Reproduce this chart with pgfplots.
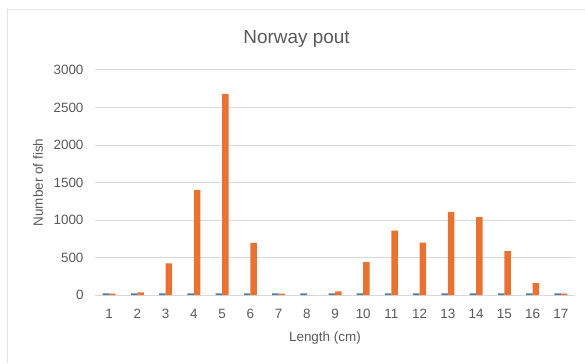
\documentclass[border=0pt]{standalone}
\usepackage{pgfplots}
\pgfplotsset{compat=1.18}
\usepackage{fontspec}
\setmainfont{Liberation Sans}

\definecolor{txtgray}{HTML}{595959}
\definecolor{gridgray}{HTML}{D9D9D9}
\definecolor{frame}{HTML}{E4E4E4}
\definecolor{serblue}{HTML}{4F7EA3}
\definecolor{serorange}{HTML}{E97132}

\begin{document}
\begin{tikzpicture}[x=1bp,y=1bp]
  % page size and chart-area frame
  \useasboundingbox (0,0) rectangle (585,363);
  \draw[frame, line width=1bp] (7.5,0) -- (7.5,353) -- (585,353);

  \begin{axis}[
    at={(95bp,68bp)}, anchor=south west,
    scale only axis, width=480bp, height=225bp,
    ybar=0pt, bar width=6.5bp,
    xmin=0.5, xmax=17.5, ymin=0, ymax=3000,
    xtick={1,...,17}, ytick={0,500,...,3000},
    axis line style={draw=none},
    tick style={draw=none},
    ymajorgrids, grid style={gridgray, line width=1bp},
    /pgf/number format/assume math mode=true,
    /pgf/number format/1000 sep={},
    ticklabel style={font=\fontsize{13.5}{16}\selectfont, text=txtgray},
    yticklabel style={xshift=-8bp},
    xticklabel style={yshift=-6bp},
    title={Norway pout},
    title style={font=\fontsize{19}{22}\selectfont, text=txtgray,
      at={(axis description cs:0.42,1)}, anchor=south, yshift=13bp},
    xlabel={Length (cm)},
    xlabel style={font=\fontsize{13.5}{16}\selectfont, text=txtgray,
      at={(axis description cs:0.479,0)}, anchor=center, yshift=-43bp},
    ylabel={Number of fish},
    ylabel style={font=\fontsize{13.5}{16}\selectfont, text=txtgray,
      at={(axis description cs:0,0.5)}, anchor=center, yshift=57bp},
    clip=false,
  ]
    % first series: small counts at every length
    \addplot[fill=serblue, draw=none] coordinates {
      (1,22) (2,22) (3,22) (4,22) (5,22) (6,22) (7,22) (8,22) (9,22)
      (10,22) (11,22) (12,22) (13,22) (14,22) (15,22) (16,22) (17,22)
    };
    % second series: length distribution
    \addplot[fill=serorange, draw=none] coordinates {
      (1,20) (2,35) (3,422) (4,1400) (5,2680) (6,695) (7,20) (8,0) (9,50)
      (10,438) (11,858) (12,697) (13,1107) (14,1040) (15,585) (16,160) (17,20)
    };
  \end{axis}
\end{tikzpicture}
\end{document}
